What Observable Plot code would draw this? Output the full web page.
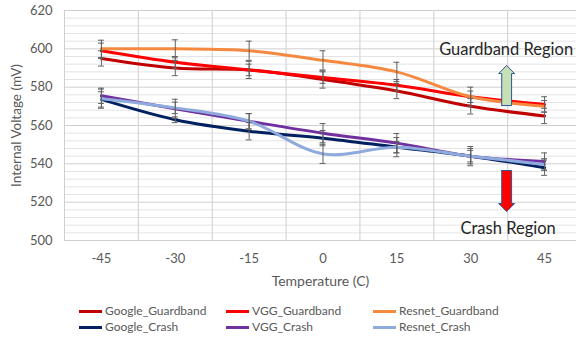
<!DOCTYPE html>
<html>
<head>
<meta charset="utf-8">
<script src="https://cdn.jsdelivr.net/npm/d3@7"></script>
<script src="https://cdn.jsdelivr.net/npm/@observablehq/plot@0.6"></script>
<style>
  html, body { margin: 0; padding: 0; background: #fff; width: 576px; height: 341px; overflow: hidden; }
  #wrap { position: relative; width: 576px; height: 341px; }
  .leg { position: absolute; font-family: Lato, "Open Sans", sans-serif; font-size: 12px; color: #595959; line-height: 16px; white-space: nowrap; display: flex; align-items: center; }
  .sw { display: inline-block; width: 23px; height: 3px; margin-right: 3px; }
</style>
</head>
<body>
<div id="wrap"></div>
<script>
// ---- data ----
const temperatures = [-45, -30, -15, 0, 15, 30, 45];
const seriesNames = ["Google_Guardband", "VGG_Guardband", "Resnet_Guardband", "Google_Crash", "VGG_Crash", "Resnet_Crash"];
const seriesColors = ["#c00000", "#ff0000", "#f4893f", "#002060", "#7030a0", "#8faadc"];

const googleGuardband = [595, 590, 589, 584, 578, 570, 565];
const vggGuardband    = [599, 593, 589, 585, 581, 575, 571];
const resnetGuardband = [600, 600, 599, 594, 588, 575, 570];
const googleCrash     = [573.6, 563, 557, 553.4, 548.7, 544, 538];
const vggCrash        = [575.5, 568.7, 562.2, 556, 550.8, 544, 541.2];
const resnetCrash     = [574, 569.2, 562.2, 545.2, 548.7, 544, 539.7];

const googleGuardbandErr = [4, 4, 4.5, 4.5, 4, 4, 4];
const vggGuardbandErr    = [4, 3, 3, 3, 3, 3, 4];
const resnetGuardbandErr = [4.5, 4.7, 5, 5, 5, 5, 3];
const googleCrashErr     = [4, 1.5, 4.5, 4, 5, 4, 4];
const vggCrashErr        = [4, 5, 4, 5, 5, 5, 4.5];
const resnetCrashErr     = [5, 3, 4, 5, 3, 3, 3];

const yTicks = [500, 520, 540, 560, 580, 600, 620];
const xGridBetween = [-37.5, -22.5, -7.5, 7.5, 22.5, 37.5];
const xLabel = "Temperature (C)";
const yLabel = "Internal Voltage (mV)";

const annotations = [
  {label: "Guardband Region", t: 37.2, v: 599.7},
  {label: "Crash Region", t: 37.6, v: 506.3}
];
// block arrows: anchor temperature, base value, head-start value, tip value
const arrowUp   = {t: 37.3, base: 570.4, head: 587.1, tip: 591.3, fill: "#c5e0b4"};
const arrowDown = {t: 37.3, base: 536.5, head: 519.3, tip: 515.1, fill: "#ff0000"};

// ---- build tables ----
const values = [googleGuardband, vggGuardband, resnetGuardband, googleCrash, vggCrash, resnetCrash];
const errs = [googleGuardbandErr, vggGuardbandErr, resnetGuardbandErr, googleCrashErr, vggCrashErr, resnetCrashErr];
const rows = [];
seriesNames.forEach((s, i) => temperatures.forEach((t, j) => rows.push({series: s, t, v: values[i][j], e: errs[i][j]})));

const shaftHalf = 1.0, headHalf = 1.62;
function arrowPoly(a) {
  return [
    [a.t - shaftHalf, a.base], [a.t + shaftHalf, a.base], [a.t + shaftHalf, a.head],
    [a.t + headHalf, a.head], [a.t, a.tip], [a.t - headHalf, a.head],
    [a.t - shaftHalf, a.head], [a.t - shaftHalf, a.base]
  ].map(([t, v]) => ({t, v, fill: a.fill}));
}

const minorY = d3.range(504, 620, 4).filter(v => v % 20 !== 0);
const capHalf = 0.6;

const chart = Plot.plot({
  width: 576,
  height: 292,
  marginLeft: 64,
  marginRight: 0,
  marginTop: 10,
  marginBottom: 52,
  style: {fontFamily: "Lato, 'Open Sans', sans-serif", fontSize: "13px", color: "#595959", background: "#fff"},
  x: {domain: [-52.5, 52.5], range: [64, 581]},
  y: {domain: [500, 620]},
  color: {domain: seriesNames, range: seriesColors},
  marks: [
    Plot.ruleY(minorY, {stroke: "#e4e4e4", strokeWidth: 1}),
    Plot.ruleY(yTicks, {stroke: "#cfcfcf", strokeWidth: 1}),
    Plot.ruleX(xGridBetween, {stroke: "#d6d6d6", strokeWidth: 1.2}),
    Plot.ruleX([-52.5], {stroke: "#cfcfcf", strokeWidth: 1}),
    Plot.axisX({ticks: temperatures, tickFormat: d => `${d}`, tickSize: 0, tickPadding: 13, label: null, fill: "#595959"}),
    Plot.axisY({ticks: yTicks, tickFormat: d => `${d}`, tickSize: 0, tickPadding: 12, label: null, fill: "#595959"}),
    Plot.text([xLabel], {frameAnchor: "bottom", dy: 41, text: d => d, fontSize: 14, fill: "#595959", textAnchor: "middle", lineAnchor: "middle"}),
    Plot.text([yLabel], {frameAnchor: "left", dx: -48, rotate: -90, text: d => d, fontSize: 13.5, fill: "#595959", textAnchor: "middle", lineAnchor: "middle"}),
    Plot.line(rows, {x: "t", y: "v", z: "series", stroke: "series", strokeWidth: 3, curve: "catmull-rom"}),
    Plot.ruleX(rows, {x: "t", y1: d => d.v - d.e, y2: d => d.v + d.e, stroke: "#606060", strokeWidth: 1}),
    Plot.ruleY(rows, {y: d => d.v + d.e, x1: d => d.t - capHalf, x2: d => d.t + capHalf, stroke: "#606060", strokeWidth: 1}),
    Plot.ruleY(rows, {y: d => d.v - d.e, x1: d => d.t - capHalf, x2: d => d.t + capHalf, stroke: "#606060", strokeWidth: 1}),
    Plot.line(arrowPoly(arrowUp), {x: "t", y: "v", fill: arrowUp.fill, stroke: "#2f5597", strokeWidth: 1, curve: "linear"}),
    Plot.line(arrowPoly(arrowDown), {x: "t", y: "v", fill: arrowDown.fill, stroke: "#2f5597", strokeWidth: 1, curve: "linear"}),
    Plot.text(annotations, {x: "t", y: "v", text: "label", fill: "#262626", fontSize: 16.5, textAnchor: "middle"})
  ]
});
document.getElementById("wrap").appendChild(chart);

// ---- legend ----
const legendCols = [79, 226, 373];
const legendRows = [303, 319];
seriesNames.forEach((name, k) => {
  const col = k % 3, row = Math.floor(k / 3);
  const el = document.createElement("div");
  el.className = "leg";
  el.style.left = legendCols[col] + "px";
  el.style.top = legendRows[row] + "px";
  const sw = document.createElement("span");
  sw.className = "sw";
  sw.style.background = seriesColors[k];
  el.appendChild(sw);
  el.appendChild(document.createTextNode(name));
  document.getElementById("wrap").appendChild(el);
});
</script>
</body>
</html>
